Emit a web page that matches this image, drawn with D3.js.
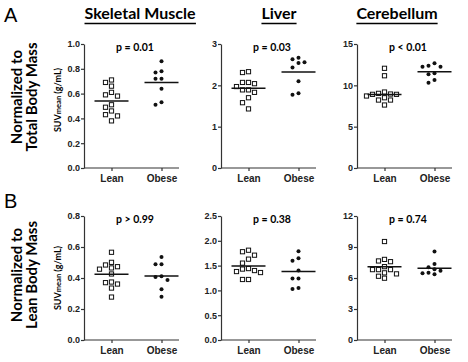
<!DOCTYPE html>
<html>
<head>
<meta charset="utf-8">
<script src="https://cdn.jsdelivr.net/npm/d3@7"></script>
<style>
  body { margin: 0; background: #fff; }
  svg { display: block; font-family: "Lato", "Open Sans", sans-serif; }
  .tick text { font-weight: 700; font-size: 9px; fill: #222; }
  .domain, .tick line { stroke: #333; stroke-width: 1.2; }
</style>
</head>
<body>
<svg id="chart"></svg>
<script>
const width = 468;
const height = 362;

const tissues = ["Skeletal Muscle", "Liver", "Cerebellum"];
const groups = ["Lean", "Obese"];
const rowLetters = ["A", "B"];
const rowLabels = [["Normalized to", "Total Body Mass"], ["Normalized to", "Lean Body Mass"]];

// row A: normalized to total body mass
const smTotalLean = [0.71, 0.69, 0.66, 0.61, 0.59, 0.58, 0.51, 0.49, 0.46, 0.43, 0.42, 0.38];
const smTotalObese = [0.86, 0.78, 0.77, 0.72, 0.72, 0.64, 0.53, 0.51];
const liverTotalLean = [2.33, 2.31, 2.07, 2.07, 2.04, 1.97, 1.89, 1.89, 1.83, 1.70, 1.58, 1.43];
const liverTotalObese = [2.67, 2.63, 2.56, 2.54, 2.43, 2.10, 1.81, 1.77];
const cbTotalLean = [12.06, 11.16, 9.19, 9.03, 8.95, 8.91, 8.91, 8.71, 8.50, 8.22, 8.22, 7.62];
const cbTotalObese = [12.66, 12.37, 12.25, 12.25, 11.45, 11.33, 10.64, 10.31];
const totalMedians = [[0.54, 0.69], [1.93, 2.32], [8.9, 11.65]];
const totalP = ["p = 0.01", "p = 0.03", "p < 0.01"];

// row B: normalized to lean body mass
const smLbmLean = [0.566, 0.501, 0.484, 0.473, 0.465, 0.457, 0.426, 0.374, 0.370, 0.361, 0.335, 0.277];
const smLbmObese = [0.535, 0.488, 0.488, 0.411, 0.406, 0.387, 0.327, 0.279];
const liverLbmLean = [1.81, 1.78, 1.71, 1.63, 1.55, 1.44, 1.43, 1.40, 1.38, 1.36, 1.22, 1.22];
const liverLbmObese = [1.79, 1.65, 1.60, 1.40, 1.24, 1.24, 1.05, 1.03];
const cbLbmLean = [9.53, 7.80, 7.65, 7.58, 7.10, 6.81, 6.81, 6.81, 6.50, 6.40, 6.17, 5.98];
const cbLbmObese = [8.57, 7.36, 7.04, 6.85, 6.69, 6.50, 6.46, 6.37];
const lbmMedians = [[0.424, 0.413], [1.49, 1.38], [7.10, 6.94]];
const lbmP = ["p > 0.99", "p = 0.38", "p = 0.74"];

const yMax = [[1, 3, 15], [0.8, 2.5, 12]];
const yTicks = [[[0, 0.2, 0.4, 0.6, 0.8, 1.0], [0, 1, 2, 3], [0, 5, 10, 15]],
                [[0, 0.2, 0.4, 0.6, 0.8], [0, 0.5, 1.0, 1.5, 2.0, 2.5], [0, 3, 6, 9, 12]]];
const yFormats = [[".1f", "d", "d"], [".1f", ".1f", "d"]];

const rowData = [
  [[smTotalLean, smTotalObese], [liverTotalLean, liverTotalObese], [cbTotalLean, cbTotalObese]],
  [[smLbmLean, smLbmObese], [liverLbmLean, liverLbmObese], [cbLbmLean, cbLbmObese]]
];
const rowMedians = [totalMedians, lbmMedians];
const rowP = [totalP, lbmP];

// layout
const panelLeft = [84, 221, 357];
const plotW = 95;
const rowTop = [44, 216];
const plotH = 124;
const titleX = [140, 279, 397];
const letterY = [22, 208];
const rowLabelY = [97, 275];
const yLabelY = [100, 278];

const svg = d3.select("#chart").attr("width", width).attr("height", height);

// column titles
tissues.forEach((t, i) => {
  const txt = svg.append("text")
    .attr("x", titleX[i]).attr("y", 19)
    .attr("text-anchor", "middle")
    .style("font-weight", 700).style("font-size", "16px")
    .text(t);
  const bb = txt.node().getBBox();
  svg.append("line")
    .attr("x1", bb.x).attr("x2", bb.x + bb.width)
    .attr("y1", 23.5).attr("y2", 23.5)
    .attr("stroke", "#000").attr("stroke-width", 1.5);
});

// place points side by side like a column scatter
function dodge(values, y, step, minGap) {
  const placed = [];
  values.slice().sort((a, b) => b - a).forEach(v => {
    const py = y(v);
    for (let k = 0; k < 20; k++) {
      const off = k === 0 ? 0 : (k % 2 ? -1 : 1) * Math.ceil(k / 2) * step;
      const hit = placed.some(p => Math.abs(p.dx - off) < minGap && Math.abs(p.y - py) < minGap);
      if (!hit) { placed.push({ dx: off, y: py, v }); break; }
    }
  });
  return placed;
}

rowData.forEach((row, r) => {
  const top = rowTop[r];

  svg.append("text")
    .attr("x", 4).attr("y", letterY[r])
    .style("font-size", "20px")
    .style("font-family", "Liberation Sans, Arial, sans-serif")
    .text(rowLetters[r]);

  const lab = svg.append("text")
    .attr("transform", `translate(22, ${rowLabelY[r]}) rotate(-90)`)
    .attr("text-anchor", "middle")
    .style("font-weight", 700).style("font-size", "15px");
  lab.append("tspan").attr("x", 0).attr("y", 0).text(rowLabels[r][0]);
  lab.append("tspan").attr("x", 0).attr("y", 15).text(rowLabels[r][1]);

  const yl = svg.append("text")
    .attr("transform", `translate(61, ${yLabelY[r]}) rotate(-90)`)
    .attr("text-anchor", "middle")
    .style("font-weight", 700).style("font-size", "9px");
  yl.append("tspan").text("SUV");
  yl.append("tspan").style("font-size", "7.5px").text("mean");
  yl.append("tspan").text(" (g/mL)");

  row.forEach((series, c) => {
    const g = svg.append("g").attr("transform", `translate(${panelLeft[c]}, ${top})`);

    const y = d3.scaleLinear().domain([0, yMax[r][c]]).range([plotH, 0]);
    const x = d3.scalePoint().domain(groups).range([27.5, 77.5]);

    g.append("g")
      .call(d3.axisLeft(y).tickValues(yTicks[r][c]).tickFormat(d3.format(yFormats[r][c]))
        .tickSize(3).tickSizeOuter(0).tickPadding(1));

    const xa = g.append("g").attr("transform", `translate(0, ${plotH})`)
      .call(d3.axisBottom(x).tickSize(3).tickSizeOuter(0).tickPadding(4));
    xa.select(".domain").attr("d", `M0,0H${plotW}`);
    xa.selectAll(".tick text").style("font-size", "10px");

    // lean: open squares
    const s = 4.2;
    dodge(series[0], y, 3, 5).forEach(p => {
      g.append("rect")
        .attr("x", x("Lean") + p.dx - s / 2).attr("y", p.y - s / 2)
        .attr("width", s).attr("height", s)
        .attr("fill", "#fff").attr("stroke", "#111").attr("stroke-width", 1);
    });
    // obese: filled dots
    dodge(series[1], y, 3, 4.6).forEach(p => {
      g.append("circle")
        .attr("cx", x("Obese") + p.dx).attr("cy", p.y).attr("r", 2)
        .attr("fill", "#111");
    });

    // median lines
    groups.forEach((grp, j) => {
      g.append("line")
        .attr("x1", x(grp) - 17).attr("x2", x(grp) + 17)
        .attr("y1", y(rowMedians[r][c][j])).attr("y2", y(rowMedians[r][c][j]))
        .attr("stroke", "#111").attr("stroke-width", 1.5);
    });

    g.append("text")
      .attr("x", 51).attr("y", 7)
      .attr("text-anchor", "middle")
      .style("font-weight", 700).style("font-size", "10.5px")
      .text(rowP[r][c]);
  });
});
</script>
</body>
</html>
